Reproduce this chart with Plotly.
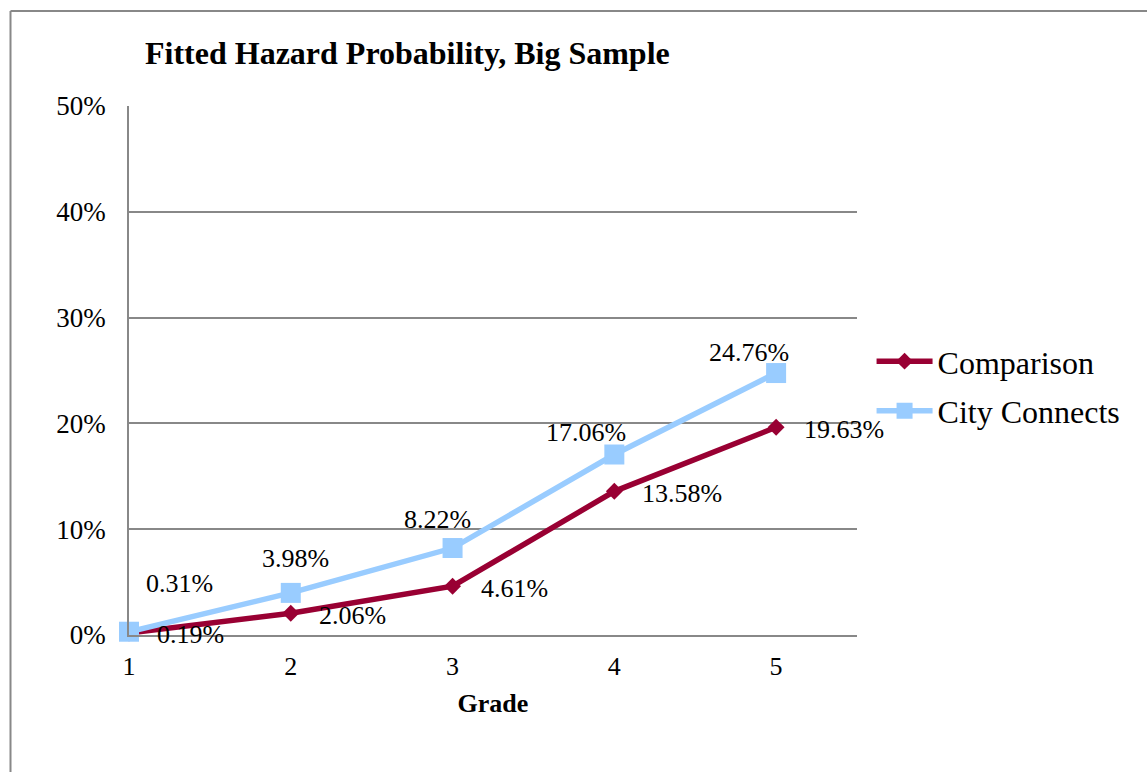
import plotly.graph_objects as go

# Grades and fitted hazard probabilities
grades = [1, 2, 3, 4, 5]
comparison = [0.0019, 0.0206, 0.0461, 0.1358, 0.1963]
city_connects = [0.0031, 0.0398, 0.0822, 0.1706, 0.2476]
y_ticks = [0, 0.1, 0.2, 0.3, 0.4, 0.5]
y_tick_labels = ["0%", "10%", "20%", "30%", "40%", "50%"]

W, H = 1147, 772
ML, MR, MT, MB = 129, 290, 106, 137
PW, PH = W - ML - MR, H - MT - MB

RED = "#990033"
BLUE = "#99CCFF"
FONT = "Liberation Serif, Times New Roman, serif"

fig = go.Figure()
fig.add_trace(go.Scatter(
    x=grades, y=comparison, name="Comparison", mode="lines+markers",
    legendgroup="a",
    line=dict(color=RED, width=5.5),
    marker=dict(symbol="diamond", size=13, color=RED),
    cliponaxis=False,
))
fig.add_trace(go.Scatter(
    x=grades, y=city_connects, name="City Connects", mode="lines+markers",
    legendgroup="b",
    line=dict(color=BLUE, width=5.5),
    marker=dict(symbol="square", size=20, color=BLUE),
    cliponaxis=False,
))

# value labels: comparison to the right, city connects above
for g, v in zip(grades, comparison):
    fig.add_annotation(x=g, y=v, text=f"{v * 100:.2f}%", showarrow=False,
                       xanchor="left", yanchor="middle", xshift=26, yshift=-2,
                       font=dict(family=FONT, size=26, color="black"))

cc_shift = [(50, 48), (5, 34), (-15, 29), (-28, 22), (-27, 21)]
for g, v, (dx, dy) in zip(grades, city_connects, cc_shift):
    fig.add_annotation(x=g, y=v, text=f"{v * 100:.2f}%", showarrow=False,
                       xanchor="center", yanchor="middle", xshift=dx, yshift=dy,
                       font=dict(family=FONT, size=26, color="black"))

# chart title
fig.add_annotation(xref="paper", yref="paper", x=(143 - ML) / PW, y=(MT + PH - 53) / PH,
                   text="<b>Fitted Hazard Probability, Big Sample</b>", showarrow=False,
                   xanchor="left", yanchor="middle",
                   font=dict(family=FONT, size=32, color="black"))

# outer chart frame (top and left edges)
fx = (10.5 - ML) / PW
fy = (MT + PH - 11) / PH
fig.add_shape(type="line", xref="paper", yref="paper", x0=fx, y0=fy, x1=2, y1=fy,
              line=dict(color="#888888", width=2))
fig.add_shape(type="line", xref="paper", yref="paper", x0=fx, y0=fy, x1=fx, y1=-1,
              line=dict(color="#888888", width=2))

fig.update_layout(
    width=W, height=H,
    margin=dict(l=ML, r=MR, t=MT, b=MB),
    paper_bgcolor="white", plot_bgcolor="white",
    font=dict(family=FONT, size=26, color="black"),
    showlegend=True,
    legend=dict(x=1.02, y=0.47, xanchor="left", yanchor="middle",
                font=dict(family=FONT, size=32, color="black"),
                itemwidth=56, bgcolor="rgba(0,0,0,0)", tracegroupgap=5),
    xaxis=dict(range=[1, 5.5], tickvals=grades, ticktext=[str(g) for g in grades],
               showgrid=False, zeroline=False, showline=True,
               linecolor="#888888", linewidth=1.5, ticks="",
               ticklabelstandoff=7, tickfont=dict(size=26),
               title=dict(text="<b>Grade</b>", font=dict(family=FONT, size=26), standoff=14)),
    yaxis=dict(range=[0, 0.5], tickvals=y_ticks, ticktext=y_tick_labels,
               showgrid=True, gridcolor="#888888", gridwidth=1.5,
               zeroline=False, showline=True, linecolor="#888888", linewidth=1.5,
               ticks="", ticklabelstandoff=16, tickfont=dict(size=27)),
)

fig.write_html("out.html")
